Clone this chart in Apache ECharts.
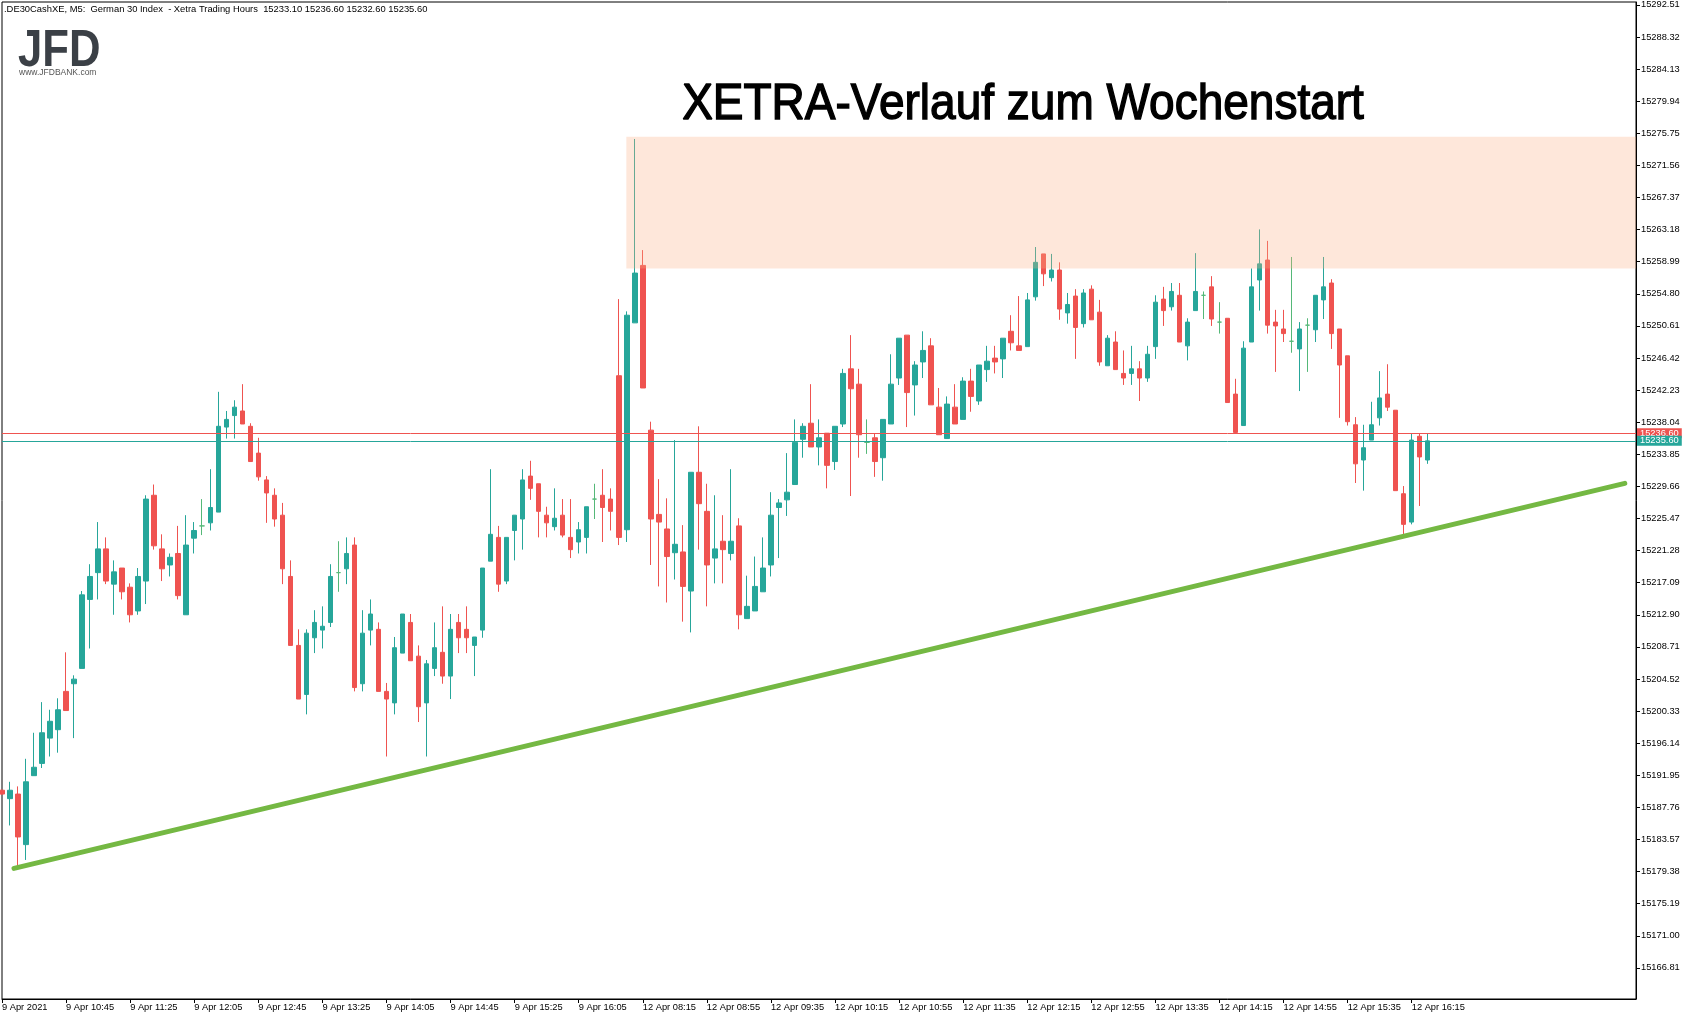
<!DOCTYPE html>
<html>
<head>
<meta charset="utf-8">
<script src="https://cdn.jsdelivr.net/npm/echarts@6/dist/echarts.min.js"></script>
<style>
html,body{margin:0;padding:0;background:#fff;}
#chart{width:1693px;height:1020px;}
</style>
</head>
<body>
<div id="chart"></div>
<script>
// ---------- text ----------
const headerText = '.DE30CashXE, M5:  German 30 Index  - Xetra Trading Hours  15233.10 15236.60 15232.60 15235.60';
const titleText = 'XETRA-Verlauf zum Wochenstart';
const logoText = 'JFD';
const logoUrl = 'www.JFDBANK.com';

// ---------- sessions (5-minute candles) ----------
const sessions = [
  { day: '9 Apr', start: '10:05', count: 80 },
  { day: '12 Apr', start: '08:15', count: 125 }
];

// ---------- tick labels ----------
const xTickLabels = [
  '9 Apr 2021','9 Apr 10:45','9 Apr 11:25','9 Apr 12:05','9 Apr 12:45','9 Apr 13:25',
  '9 Apr 14:05','9 Apr 14:45','9 Apr 15:25','9 Apr 16:05','12 Apr 08:15','12 Apr 08:55',
  '12 Apr 09:35','12 Apr 10:15','12 Apr 10:55','12 Apr 11:35','12 Apr 12:15','12 Apr 12:55',
  '12 Apr 13:35','12 Apr 14:15','12 Apr 14:55','12 Apr 15:35','12 Apr 16:15'
];
const yTickValues = [
  15166.81,15171.00,15175.19,15179.38,15183.57,15187.76,15191.95,15196.14,15200.33,15204.52,
  15208.71,15212.90,15217.09,15221.28,15225.47,15229.66,15233.85,15238.04,15242.23,15246.42,
  15250.61,15254.80,15258.99,15263.18,15267.37,15271.56,15275.75,15279.94,15284.13,15288.32,15292.51
];

// ---------- OHLC ----------
const openP = [
15190.0,15188.9,15189.5,15182.9,15191.9,15193.5,15196.8,15197.9,15202.9,15203.9,
15205.9,15214.9,15218.4,15221.5,15216.9,15219.0,15216.5,15213.4,15217.3,15228.5,
15221.5,15219.4,15220.9,15212.9,15222.9,15224.5,15224.9,15226.3,15237.4,15238.9,
15239.5,15237.5,15234.0,15230.5,15228.5,15225.9,15217.9,15208.9,15202.5,15209.9,
15210.9,15211.9,15218.4,15218.9,15222.0,15203.9,15210.9,15211.0,15202.9,15201.4,
15207.9,15211.9,15207.5,15201.4,15205.9,15208.0,15204.9,15211.9,15211.0,15208.9,
15210.9,15219.9,15223.0,15217.3,15223.9,15225.4,15231.0,15230.0,15225.9,15224.4,
15225.9,15223.0,15222.4,15223.0,15228.0,15228.5,15228.0,15244.1,15224.0,15251.0,
15258.5,15237.0,15226.0,15224.1,15221.0,15221.1,15216.0,15231.5,15226.4,15220.3,
15222.5,15220.9,15224.5,15212.4,15213.4,15215.9,15219.4,15226.9,15227.9,15229.9,
15235.8,15237.9,15234.8,15236.6,15232.9,15237.8,15245.0,15243.0,15235.4,15236.0,
15233.4,15237.8,15243.8,15249.4,15242.9,15245.9,15248.0,15240.0,15235.9,15240.0,
15238.4,15243.4,15240.8,15244.9,15246.4,15246.3,15249.9,15248.0,15247.9,15254.4,
15260.0,15256.9,15257.9,15252.3,15254.5,15250.9,15255.4,15252.4,15245.4,15248.5,
15244.4,15244.4,15245.0,15243.8,15247.9,15254.1,15253.1,15254.6,15248.0,15252.6,
15254.6,15255.7,15251.1,15251.6,15241.7,15237.6,15248.5,15256.6,15259.2,15251.1,
15250.2,15248.6,15247.6,15250.7,15250.1,15254.0,15256.2,15250.2,15246.7,15237.7,
15233.1,15235.7,15238.6,15241.7,15239.6,15228.7,15225.0,15236.2,15233.1
];
const highP = [
15190.1,15191.1,15190.5,15194.1,15197.5,15201.5,15200.5,15202.0,15208.0,15205.0,
15216.0,15219.5,15225.0,15223.0,15220.0,15219.0,15217.0,15219.0,15228.5,15229.9,
15223.4,15220.9,15224.5,15225.9,15225.0,15228.0,15231.9,15242.0,15239.5,15240.9,
15243.0,15237.9,15236.0,15231.0,15229.4,15227.5,15220.0,15211.0,15211.0,15213.5,
15214.0,15219.5,15222.5,15223.0,15223.0,15213.5,15214.9,15211.9,15204.0,15210.0,
15213.0,15213.0,15208.9,15207.0,15211.9,15214.0,15213.0,15213.0,15214.0,15210.0,
15219.0,15231.9,15224.5,15223.0,15225.9,15231.9,15233.0,15230.0,15227.0,15229.4,
15228.0,15228.0,15225.0,15227.0,15230.0,15231.9,15229.4,15254.1,15252.5,15275.0,
15260.5,15238.1,15230.6,15228.1,15235.7,15224.6,15231.5,15237.5,15230.0,15228.5,
15225.9,15231.9,15225.5,15218.0,15220.5,15223.0,15228.9,15228.0,15234.0,15238.4,
15237.9,15243.0,15238.4,15236.6,15237.5,15245.0,15249.4,15245.0,15238.4,15236.6,
15238.4,15246.9,15249.0,15249.4,15246.0,15249.9,15249.0,15242.5,15241.4,15243.0,
15243.9,15245.0,15245.5,15248.0,15248.0,15249.0,15252.0,15254.5,15254.9,15260.9,
15260.0,15260.0,15258.9,15254.9,15255.4,15255.4,15255.9,15254.0,15249.4,15249.9,
15247.4,15248.0,15246.0,15248.0,15254.6,15255.7,15256.2,15256.2,15251.6,15260.1,
15255.1,15257.1,15253.7,15251.6,15243.7,15248.6,15258.1,15263.2,15261.7,15252.7,
15252.7,15259.6,15251.1,15251.6,15254.6,15259.6,15256.7,15250.2,15246.7,15238.7,
15237.7,15240.7,15244.7,15245.6,15239.6,15229.7,15236.6,15236.6,15236.6
];
const lowP = [
15189.4,15185.4,15180.0,15180.9,15191.9,15192.9,15194.4,15194.9,15200.4,15196.8,
15205.9,15208.5,15214.9,15216.9,15212.9,15214.9,15211.9,15212.9,15214.3,15221.4,
15217.3,15217.9,15214.9,15212.9,15220.9,15223.3,15223.9,15226.3,15235.9,15235.9,
15237.8,15232.9,15230.4,15224.9,15224.4,15216.9,15208.9,15201.9,15199.9,15207.9,
15208.5,15211.3,15215.9,15216.9,15202.9,15202.9,15208.9,15202.9,15194.4,15199.9,
15207.9,15206.9,15198.9,15194.4,15204.9,15203.9,15201.9,15207.9,15207.9,15204.9,
15209.9,15219.9,15215.9,15216.9,15220.0,15221.4,15227.9,15223.0,15223.0,15223.9,
15223.0,15220.3,15220.9,15220.9,15225.4,15222.4,15223.9,15222.0,15222.4,15251.0,
15242.5,15219.4,15216.6,15214.5,15217.5,15212.0,15210.6,15221.4,15214.0,15217.0,
15217.0,15220.0,15211.0,15212.4,15213.4,15215.9,15217.9,15220.3,15225.8,15229.9,
15233.4,15234.8,15232.4,15229.4,15231.8,15237.4,15228.4,15233.4,15233.9,15230.9,
15230.4,15237.8,15242.9,15237.4,15238.9,15243.8,15240.3,15236.4,15235.9,15237.8,
15238.4,15239.4,15240.3,15243.3,15244.4,15243.8,15247.4,15247.4,15247.9,15253.9,
15255.8,15256.4,15251.4,15250.9,15246.3,15250.4,15251.4,15245.4,15245.4,15244.9,
15242.9,15242.9,15240.8,15243.3,15246.3,15250.6,15252.6,15248.5,15246.1,15252.6,
15251.5,15250.6,15249.6,15240.6,15236.6,15237.6,15248.5,15252.6,15249.6,15244.6,
15248.5,15247.1,15242.1,15244.6,15248.5,15251.5,15247.6,15238.6,15237.6,15230.1,
15229.1,15235.7,15237.6,15239.5,15229.1,15223.3,15224.7,15227.1,15232.6
];
const closeP = [
15189.5,15190.0,15183.9,15191.1,15193.0,15197.5,15199.0,15200.5,15200.4,15204.5,
15215.5,15217.9,15221.5,15217.3,15218.5,15215.9,15212.9,15217.9,15228.0,15221.9,
15218.9,15220.4,15215.4,15222.0,15223.9,15224.5,15226.9,15237.5,15238.4,15240.0,
15237.8,15232.9,15230.9,15228.8,15225.4,15218.9,15208.9,15201.9,15210.5,15211.9,
15211.4,15217.9,15218.4,15220.9,15203.4,15210.5,15213.0,15202.9,15201.9,15208.6,
15213.0,15206.9,15200.9,15206.5,15208.6,15204.9,15211.0,15209.9,15209.9,15210.0,
15219.0,15223.4,15216.9,15223.0,15225.9,15230.5,15229.4,15226.4,15224.9,15225.5,
15223.3,15221.4,15224.0,15227.0,15228.0,15226.9,15226.4,15223.0,15252.0,15257.5,
15242.5,15225.4,15225.0,15220.5,15222.1,15216.6,15231.5,15227.4,15219.4,15221.5,
15221.4,15222.5,15212.9,15214.0,15216.6,15219.0,15225.9,15227.5,15228.9,15235.4,
15237.5,15234.8,15236.0,15232.4,15237.5,15244.4,15242.4,15236.4,15235.4,15232.9,
15238.4,15243.0,15249.0,15241.9,15245.5,15247.4,15240.3,15236.4,15240.4,15237.8,
15243.4,15241.4,15245.5,15246.0,15245.9,15249.0,15248.4,15247.4,15254.0,15258.9,
15257.4,15257.9,15252.8,15253.4,15250.4,15254.9,15251.4,15245.9,15249.0,15244.9,
15243.8,15245.0,15243.8,15246.9,15253.7,15252.6,15255.1,15248.5,15251.1,15255.1,
15254.6,15251.5,15251.1,15240.6,15236.7,15247.7,15255.7,15258.7,15250.7,15250.6,
15249.6,15248.6,15250.2,15250.7,15254.6,15255.7,15249.6,15245.5,15238.1,15232.6,
15234.7,15237.7,15241.2,15240.0,15229.1,15224.7,15235.7,15233.5,15235.6
];

// ---------- price lines, zone, trendline ----------
const askPrice = 15236.60;
const bidPrice = 15235.60;
const zoneTop = 15275.3;
const zoneBottom = 15258.1;
const zoneStart = 78;              // candle index where the resistance box begins
const trendX = [1.5, 202.6];       // candle-index positions of trendline ends
const trendY = [15179.8, 15230.05];
const yMin = 15162.75, yMax = 15292.88;

// ---------- build categories ----------
function pad(n){ return (n < 10 ? '0' : '') + n; }
const categories = [];
sessions.forEach(s => {
  const [h, m] = s.start.split(':').map(Number);
  let t = h * 60 + m;
  for (let k = 0; k < s.count; k++, t += 5) {
    categories.push(s.day + ' ' + pad(Math.floor(t / 60)) + ':' + pad(t % 60));
  }
});
const lastLabelIdx = (xTickLabels.length - 1) * 8;

const BULL = '#26a69a', BEAR = '#ef5350', DOJI = '#55b878';
const FONT = '"Liberation Sans", Arial, sans-serif';

const candleData = openP.map((o, i) => {
  const v = [o, closeP[i], lowP[i], highP[i]];
  if (o === closeP[i]) {
    return { value: v, itemStyle: { color: DOJI, color0: DOJI, borderColor: DOJI, borderColor0: DOJI } };
  }
  return v;
});

const chart = echarts.init(document.getElementById('chart'), null, { renderer: 'canvas' });
const showTick = (i) => i % 8 === 0 && i <= lastLabelIdx;

chart.setOption({
  animation: false,
  backgroundColor: '#ffffff',
  grid: {
    left: 2, right: 57, top: 2, bottom: 21,
    show: true, borderColor: '#000', borderWidth: 1,
    containLabel: false, outerBoundsMode: 'none'
  },
  xAxis: [
    {
      type: 'category', data: categories, boundaryGap: false,
      axisLine: { show: true, onZero: false, lineStyle: { color: '#000', width: 1 } },
      axisTick: { show: true, length: 4, interval: showTick, lineStyle: { color: '#000' } },
      axisLabel: {
        show: true, interval: showTick, align: 'left', color: '#000',
        fontFamily: FONT, fontSize: 9.3, margin: 4, hideOverlap: false,
        formatter: (v, i) => xTickLabels[i / 8] || ''
      },
      splitLine: { show: false }
    },
    { type: 'value', min: 0, max: categories.length - 1, show: false }
  ],
  yAxis: {
    type: 'value', position: 'right', min: yMin, max: yMax, scale: true,
    axisLine: { show: true, onZero: false, lineStyle: { color: '#000', width: 1 } },
    axisTick: { show: true, length: 4, customValues: yTickValues, lineStyle: { color: '#000' } },
    axisLabel: {
      show: true, customValues: yTickValues, color: '#000', fontFamily: FONT,
      fontSize: 9.3, margin: 5, formatter: v => Number(v).toFixed(2)
    },
    splitLine: { show: false }
  },
  series: [
    {
      type: 'candlestick', name: 'DE30', xAxisIndex: 0, yAxisIndex: 0,
      data: candleData, barWidth: 5, clip: true, z: 2,
      itemStyle: { color: BULL, color0: BEAR, borderColor: BULL, borderColor0: BEAR, borderWidth: 1 },
      markLine: {
        silent: true, animation: false, symbol: ['none', 'none'], z: 4,
        data: [
          { yAxis: askPrice, lineStyle: { color: BEAR, width: 1, type: 'solid' },
            label: { show: true, position: 'end', distance: 1, formatter: () => askPrice.toFixed(2),
                     backgroundColor: BEAR, color: '#fff', fontFamily: FONT, fontSize: 9.3, padding: [1, 3, 0, 3] } },
          { yAxis: bidPrice, lineStyle: { color: BULL, width: 1, type: 'solid' },
            label: { show: true, position: 'end', distance: 1, formatter: () => bidPrice.toFixed(2),
                     backgroundColor: BULL, color: '#fff', fontFamily: FONT, fontSize: 9.3, padding: [1, 3, 0, 3] } }
        ]
      }
    },
    {
      type: 'line', name: 'trend', xAxisIndex: 1, yAxisIndex: 0,
      data: trendX.map((x, i) => [x, trendY[i]]),
      symbol: 'none', silent: true, z: 3,
      lineStyle: { color: '#74b843', width: 5, cap: 'round' },
      markArea: {
        silent: true, z: 10,
        itemStyle: { color: 'rgba(252,176,133,0.3)', borderWidth: 0 },
        data: [[ { xAxis: zoneStart - 0.05, yAxis: zoneTop }, { xAxis: categories.length - 1, yAxis: zoneBottom } ]]
      }
    }
  ],
  graphic: [
    { type: 'text', x: 4, y: 9, silent: true,
      style: { text: headerText, fill: '#000', font: '9.4px ' + FONT, verticalAlign: 'middle' } },
    { type: 'text', x: 18, y: 26, scaleX: 0.84, silent: true,
      style: { text: logoText, fill: '#3b4046', font: 'bold 52px ' + FONT, verticalAlign: 'top' } },
    { type: 'text', x: 19, y: 73, silent: true,
      style: { text: logoUrl, fill: '#555', font: '8.5px ' + FONT, verticalAlign: 'middle' } },
    { type: 'text', x: 1023, y: 105.5, scaleX: 0.92, silent: true,
      style: { text: titleText, fill: '#000', stroke: '#000', lineWidth: 1.4,
               font: '50px ' + FONT, align: 'center', verticalAlign: 'middle' } }
  ]
});
</script>
</body>
</html>
